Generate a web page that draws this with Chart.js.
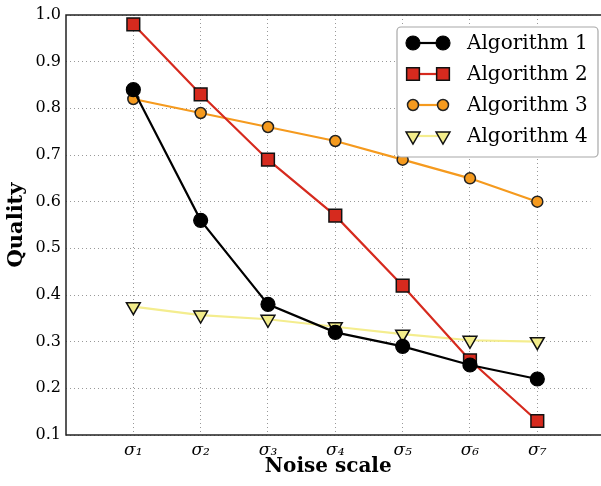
<!DOCTYPE html>
<html>
<head>
<meta charset="utf-8">
<script src="https://cdn.jsdelivr.net/npm/chart.js@4/dist/chart.umd.min.js"></script>
<style>
  html, body { margin: 0; padding: 0; background: #fff; overflow: hidden; }
  canvas { display: block; }
</style>
</head>
<body>
<canvas id="myChart" width="601" height="486"></canvas>
<script>
const categories = ['σ₁', 'σ₂', 'σ₃', 'σ₄', 'σ₅', 'σ₆', 'σ₇'];
const positions = [1, 2, 3, 4, 5, 6, 7];
const algorithm1 = [0.84, 0.56, 0.38, 0.32, 0.29, 0.25, 0.22];
const algorithm2 = [0.98, 0.83, 0.69, 0.57, 0.42, 0.26, 0.13];
const algorithm3 = [0.82, 0.79, 0.76, 0.73, 0.69, 0.65, 0.60];
const algorithm4 = [0.375, 0.357, 0.348, 0.332, 0.316, 0.303, 0.300];
const yTicks = [0.1, 0.2, 0.3, 0.4, 0.5, 0.6, 0.7, 0.8, 0.9, 1.0];

const SERIF = "'DejaVu Serif', serif";

function points(values) {
  return values.map((v, i) => ({ x: positions[i], y: v }));
}

// axes frame (right side falls outside the picture) + legend with line-marker-line samples
const framePlugin = {
  id: 'frame',
  afterDatasetsDraw(chart) {
    const { ctx, chartArea: a } = chart;
    ctx.save();
    ctx.strokeStyle = '#222';
    ctx.lineWidth = 1.5;
    ctx.beginPath();
    ctx.moveTo(chart.width + 2, a.top);
    ctx.lineTo(a.left, a.top);
    ctx.lineTo(a.left, a.bottom);
    ctx.lineTo(chart.width + 2, a.bottom);
    ctx.stroke();

    // legend
    const bx = 397, by = 27, bw = 201, bh = 130;
    ctx.beginPath();
    ctx.roundRect(bx, by, bw, bh, 4);
    ctx.fillStyle = '#fff';
    ctx.fill();
    ctx.strokeStyle = '#a8a8a8';
    ctx.lineWidth = 1.2;
    ctx.stroke();

    chart.data.datasets.forEach((ds, i) => {
      const y = 43 + i * 31;
      const x1 = 413, x2 = 443;
      ctx.beginPath();
      ctx.strokeStyle = ds.borderColor;
      ctx.lineWidth = ds.borderWidth;
      ctx.moveTo(x1, y);
      ctx.lineTo(x2, y);
      ctx.stroke();
      const opts = {
        pointStyle: ds.pointStyle,
        radius: ds.pointRadius,
        rotation: ds.pointRotation || 0,
        borderWidth: ds.pointBorderWidth
      };
      ctx.fillStyle = ds.pointBackgroundColor;
      ctx.strokeStyle = ds.pointBorderColor;
      ctx.lineWidth = ds.pointBorderWidth;
      Chart.helpers.drawPoint(ctx, opts, x1, y);
      Chart.helpers.drawPoint(ctx, opts, x2, y);
      ctx.fillStyle = '#000';
      ctx.font = '20px ' + SERIF;
      ctx.textBaseline = 'middle';
      ctx.textAlign = 'left';
      ctx.fillText(ds.label, 467, y + 1);
    });
    ctx.restore();
  }
};

const ctx = document.getElementById('myChart').getContext('2d');

const chart = new Chart(ctx, {
  type: 'line',
  data: {
    datasets: [{
      label: 'Algorithm 1',
      data: points(algorithm1),
      borderColor: '#000',
      borderWidth: 2.2,
      pointStyle: 'circle',
      pointRadius: 7,
      pointBackgroundColor: '#000',
      pointBorderColor: '#000',
      pointBorderWidth: 1.2,
    },
    {
      label: 'Algorithm 2',
      data: points(algorithm2),
      borderColor: '#d62a1e',
      borderWidth: 2.2,
      pointStyle: 'rect',
      pointRadius: 9,
      pointBackgroundColor: '#d62a1e',
      pointBorderColor: '#111',
      pointBorderWidth: 1.5,
    },
    {
      label: 'Algorithm 3',
      data: points(algorithm3),
      borderColor: '#f59a1e',
      borderWidth: 2.2,
      pointStyle: 'circle',
      pointRadius: 5.5,
      pointBackgroundColor: '#f59a1e',
      pointBorderColor: '#222',
      pointBorderWidth: 1.5,
    },
    {
      label: 'Algorithm 4',
      data: points(algorithm4),
      borderColor: '#f4ed8e',
      borderWidth: 2.2,
      pointStyle: 'triangle',
      pointRotation: 180,
      pointRadius: 8,
      pointBackgroundColor: '#f2ec8a',
      pointBorderColor: '#111',
      pointBorderWidth: 1.5,
    }]
  },
  options: {
    responsive: false,
    animation: false,
    layout: { padding: { top: 15, right: 0, left: 0, bottom: 0 } },
    plugins: {
      legend: { display: false },
      tooltip: { enabled: false }
    },
    elements: { line: { tension: 0 } },
    scales: {
      x: {
        type: 'linear',
        min: 0,
        max: 7.79,
        afterBuildTicks(scale) {
          scale.ticks = positions.map(v => ({ value: v }));
        },
        afterFit(scale) {
          scale.height = 51;
          scale.paddingLeft = 0;
          scale.paddingRight = 0;
        },
        ticks: {
          callback: (v) => categories[positions.indexOf(v)],
          color: '#000',
          font: { family: SERIF, size: 17, style: 'italic' },
          padding: 5,
          maxRotation: 0,
        },
        grid: {
          color: '#999',
          lineWidth: 1,
          drawTicks: false,
        },
        border: { display: false, dash: [1, 3] },
        title: {
          display: true,
          text: 'Noise scale',
          color: '#000',
          font: { family: SERIF, size: 20, weight: 'bold' },
          padding: { top: 0, bottom: 7 },
        }
      },
      y: {
        min: 0.1,
        max: 1.0,
        afterBuildTicks(scale) {
          scale.ticks = yTicks.map(v => ({ value: v }));
        },
        afterFit(scale) { scale.width = 66; },
        ticks: {
          callback: (v) => v.toFixed(1),
          color: '#000',
          font: { family: SERIF, size: 16 },
          padding: 5,
        },
        grid: {
          color: '#999',
          lineWidth: 1,
          drawTicks: false,
        },
        border: { display: false, dash: [1, 3] },
        title: {
          display: true,
          text: 'Quality',
          color: '#000',
          font: { family: SERIF, size: 21, weight: 'bold' },
          padding: { top: 4, bottom: 0 },
        }
      }
    }
  },
  plugins: [framePlugin]
});
</script>
</body>
</html>
